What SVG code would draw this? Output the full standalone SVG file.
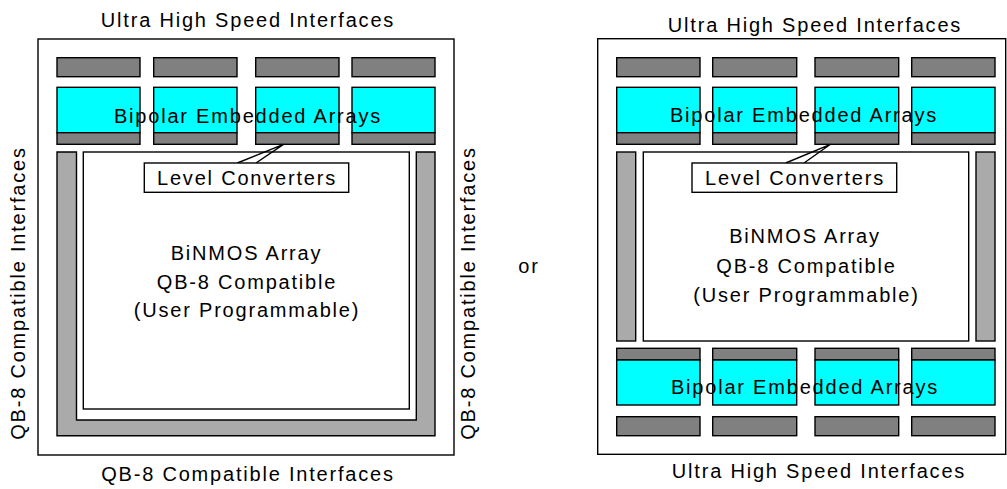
<svg xmlns="http://www.w3.org/2000/svg" width="1007" height="489" viewBox="0 0 1007 489">
<style>
text { font-family: "Liberation Sans", Arial, sans-serif; font-size: 20px; letter-spacing: 1.8px; fill: #000; text-anchor: middle; }
.frame { fill: #fff; stroke: #000; stroke-width: 1.4; }
.dark { fill: #808080; stroke: #000; stroke-width: 1.4; }
.light { fill: #aaaaaa; stroke: #000; stroke-width: 1.4; }
.cyan { fill: #00ffff; stroke: #000; stroke-width: 1.4; }
.box { fill: #fff; stroke: #000; stroke-width: 1.4; }
.line { fill: none; stroke: #000; stroke-width: 1.4; }
</style>
<rect width="1007" height="489" fill="#fff"/>

<!-- Left diagram -->
<g id="left-chip">
  <rect class="frame" x="38" y="39" width="416" height="416"/>
</g>
<g id="left-top-io">
  <rect class="dark" x="57" y="57.7" width="83" height="19"/>
  <rect class="dark" x="153.7" y="57.7" width="83.3" height="19"/>
  <rect class="dark" x="255.7" y="57.7" width="83.3" height="19"/>
  <rect class="dark" x="352" y="57.7" width="83" height="19"/>
</g>
<g id="left-bipolar">
  <rect class="cyan" x="57" y="87.3" width="83" height="45.4"/>
  <rect class="dark" x="57" y="132.7" width="83" height="11.6"/>
  <rect class="cyan" x="153.7" y="87.3" width="83.3" height="45.4"/>
  <rect class="dark" x="153.7" y="132.7" width="83.3" height="11.6"/>
  <rect class="cyan" x="255.7" y="87.3" width="83.3" height="45.4"/>
  <rect class="dark" x="255.7" y="132.7" width="83.3" height="11.6"/>
  <rect class="cyan" x="352" y="87.3" width="83" height="45.4"/>
  <rect class="dark" x="352" y="132.7" width="83" height="11.6"/>
  <text x="248" y="123">Bipolar Embedded Arrays</text>
</g>
<g id="left-qb8-ring">
  <path class="light" d="M57,152 L57,435.7 L435,435.7 L435,152 L416.3,152 L416.3,420 L76.5,420 L76.5,152 Z"/>
</g>
<g id="left-binmos">
  <rect class="box" x="83.3" y="152" width="326" height="257"/>
  <text x="246.5" y="260">BiNMOS Array</text>
  <text x="247" y="289">QB-8 Compatible</text>
  <text x="247" y="317">(User Programmable)</text>
</g>
<g id="left-connectors">
  <polyline class="line" points="237.3,163 283.5,144.3 256,163"/>
</g>
<g id="left-level">
  <rect class="box" x="144.3" y="163" width="204.4" height="29.3"/>
  <text x="247" y="185">Level Converters</text>
</g>
<g id="left-labels">
  <text x="248" y="27">Ultra High Speed Interfaces</text>
  <text x="248" y="481">QB-8 Compatible Interfaces</text>
  <text transform="translate(25,293) rotate(-90)">QB-8 Compatible Interfaces</text>
  <text transform="translate(475,293) rotate(-90)">QB-8 Compatible Interfaces</text>
</g>

<g id="or-label">
  <text x="529" y="273">or</text>
</g>

<!-- Right diagram -->
<g id="right-chip">
  <rect class="frame" x="597.7" y="38.7" width="408" height="415.6"/>
</g>
<g id="right-top-io">
  <rect class="dark" x="616.7" y="57.7" width="83.3" height="19"/>
  <rect class="dark" x="712.7" y="57.7" width="84" height="19"/>
  <rect class="dark" x="815" y="57.7" width="83.7" height="19"/>
  <rect class="dark" x="911.7" y="57.7" width="83.3" height="19"/>
</g>
<g id="right-top-bipolar">
  <rect class="cyan" x="616.7" y="87.3" width="83.3" height="45.4"/>
  <rect class="dark" x="616.7" y="132.7" width="83.3" height="11.6"/>
  <rect class="cyan" x="712.7" y="87.3" width="84" height="45.4"/>
  <rect class="dark" x="712.7" y="132.7" width="84" height="11.6"/>
  <rect class="cyan" x="815" y="87.3" width="83.7" height="45.4"/>
  <rect class="dark" x="815" y="132.7" width="83.7" height="11.6"/>
  <rect class="cyan" x="911.7" y="87.3" width="83.3" height="45.4"/>
  <rect class="dark" x="911.7" y="132.7" width="83.3" height="11.6"/>
  <text x="804" y="121.5">Bipolar Embedded Arrays</text>
</g>
<g id="right-side-io">
  <rect class="light" x="616.7" y="152" width="19" height="189"/>
  <rect class="light" x="976" y="152" width="19" height="189"/>
</g>
<g id="right-binmos">
  <rect class="box" x="643.3" y="152" width="325.4" height="189"/>
  <text x="805" y="243">BiNMOS Array</text>
  <text x="806.5" y="272.5">QB-8 Compatible</text>
  <text x="806.5" y="301.5">(User Programmable)</text>
</g>
<g id="right-connectors">
  <polyline class="line" points="785.7,163 830.5,144.3 804,163"/>
</g>
<g id="right-level">
  <rect class="box" x="692" y="163" width="204.7" height="29.3"/>
  <text x="795" y="185">Level Converters</text>
</g>
<g id="right-bottom-bipolar">
  <rect class="dark" x="616.7" y="348.3" width="83.3" height="11.7"/>
  <rect class="cyan" x="616.7" y="360" width="83.3" height="45"/>
  <rect class="dark" x="712.7" y="348.3" width="84" height="11.7"/>
  <rect class="cyan" x="712.7" y="360" width="84" height="45"/>
  <rect class="dark" x="815" y="348.3" width="83.7" height="11.7"/>
  <rect class="cyan" x="815" y="360" width="83.7" height="45"/>
  <rect class="dark" x="911.7" y="348.3" width="83.3" height="11.7"/>
  <rect class="cyan" x="911.7" y="360" width="83.3" height="45"/>
  <text x="805" y="394">Bipolar Embedded Arrays</text>
</g>
<g id="right-bottom-io">
  <rect class="dark" x="616.7" y="416.7" width="83.3" height="19"/>
  <rect class="dark" x="712.7" y="416.7" width="84" height="19"/>
  <rect class="dark" x="815" y="416.7" width="83.7" height="19"/>
  <rect class="dark" x="911.7" y="416.7" width="83.3" height="19"/>
</g>
<g id="right-labels">
  <text x="815" y="31.5">Ultra High Speed Interfaces</text>
  <text x="819" y="478">Ultra High Speed Interfaces</text>
</g>
</svg>
